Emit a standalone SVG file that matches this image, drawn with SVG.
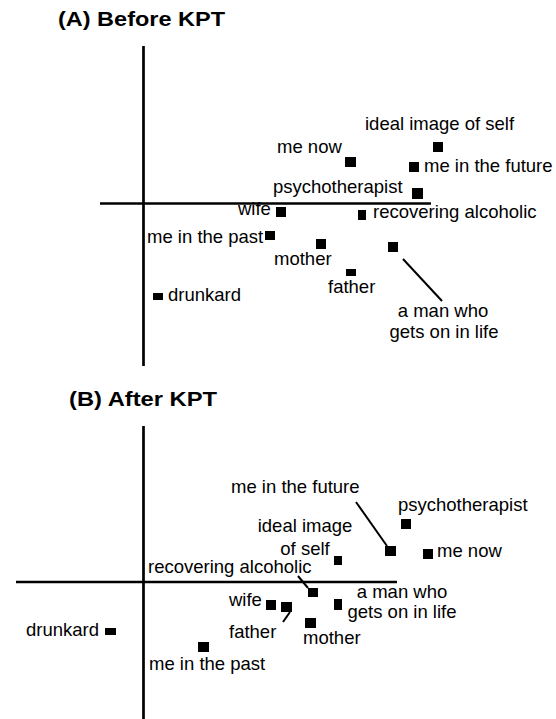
<svg xmlns="http://www.w3.org/2000/svg" width="556" height="719" viewBox="0 0 556 719">
<style>
.t{font-family:"Liberation Sans",Arial,sans-serif;font-size:18.5px;fill:#000}
.h{font-family:"Liberation Sans",Arial,sans-serif;font-size:21px;font-weight:bold;fill:#000}
.ax{stroke:#000;stroke-width:2.7;fill:none}
.ld{stroke:#000;stroke-width:2;fill:none}
.m{fill:#000}
.mid{text-anchor:middle}
</style>
<rect width="556" height="719" fill="#fff"/>
<text class="h" x="58" y="26" textLength="167" lengthAdjust="spacingAndGlyphs">(A) Before KPT</text>
<text class="h" x="69" y="406" textLength="148" lengthAdjust="spacingAndGlyphs">(B) After KPT</text>
<g id="connectors">
<line class="ax" x1="143.5" y1="46" x2="143.5" y2="366"/>
<line class="ax" x1="100" y1="203.5" x2="431" y2="203.5"/>
<line class="ld" x1="403" y1="259" x2="442" y2="301"/>
<line class="ax" x1="143.5" y1="426" x2="143.5" y2="719"/>
<line class="ax" x1="16" y1="582" x2="397" y2="582"/>
<line class="ld" x1="356" y1="502" x2="387" y2="546"/>
<line class="ld" x1="298" y1="576" x2="308" y2="588"/>
<line class="ld" x1="290" y1="612" x2="283" y2="622"/>
</g>
<g id="A-ideal"><rect class="m" x="433" y="142" width="10" height="10"/><text class="t" x="365" y="130">ideal image of self</text></g>
<g id="A-menow"><rect class="m" x="345" y="157" width="11" height="10"/><text class="t" x="277" y="153">me now</text></g>
<g id="A-future"><rect class="m" x="409" y="162" width="10" height="10"/><text class="t" x="424" y="172">me in the future</text></g>
<g id="A-psych"><rect class="m" x="412" y="188" width="11" height="11"/><text class="t" x="273" y="193">psychotherapist</text></g>
<g id="A-wife"><rect class="m" x="276" y="207" width="10" height="10"/><text class="t" x="238" y="215">wife</text></g>
<g id="A-recovering"><rect class="m" x="358" y="210" width="8" height="10"/><text class="t" x="373" y="218">recovering alcoholic</text></g>
<g id="A-past"><rect class="m" x="265" y="231" width="10" height="9"/><text class="t" x="147" y="243">me in the past</text></g>
<g id="A-mother"><rect class="m" x="316" y="239" width="10" height="10"/><text class="t" x="274" y="265">mother</text></g>
<g id="A-father"><rect class="m" x="346" y="269" width="10" height="7"/><text class="t" x="328" y="293">father</text></g>
<g id="A-man"><rect class="m" x="388" y="242" width="10" height="10"/><text class="t mid" x="443" y="317">a man who</text><text class="t mid" x="444" y="338">gets on in life</text></g>
<g id="A-drunkard"><rect class="m" x="153" y="293" width="10" height="7"/><text class="t" x="168" y="301">drunkard</text></g>
<g id="B-future"><rect class="m" x="385" y="546" width="11" height="10"/><text class="t" x="231" y="493">me in the future</text></g>
<g id="B-psych"><rect class="m" x="401" y="519" width="10" height="10"/><text class="t" x="398" y="511">psychotherapist</text></g>
<g id="B-ideal"><rect class="m" x="334" y="556" width="8" height="9"/><text class="t mid" x="305" y="532">ideal image</text><text class="t mid" x="305" y="555">of self</text></g>
<g id="B-menow"><rect class="m" x="423" y="549" width="10" height="10"/><text class="t" x="437" y="557">me now</text></g>
<g id="B-recovering"><rect class="m" x="308" y="588" width="10" height="9"/><text class="t" x="148" y="573">recovering alcoholic</text></g>
<g id="B-man"><rect class="m" x="334" y="599" width="8" height="11"/><text class="t mid" x="402" y="598">a man who</text><text class="t mid" x="402" y="618">gets on in life</text></g>
<g id="B-wife"><rect class="m" x="266" y="600" width="10" height="10"/><text class="t" x="229" y="606">wife</text></g>
<g id="B-father"><rect class="m" x="281" y="602" width="11" height="10"/><text class="t" x="229" y="638">father</text></g>
<g id="B-mother"><rect class="m" x="305" y="618" width="11" height="10"/><text class="t" x="303" y="644">mother</text></g>
<g id="B-drunkard"><rect class="m" x="105" y="628" width="11" height="7"/><text class="t" x="26" y="636">drunkard</text></g>
<g id="B-past"><rect class="m" x="198" y="642" width="11" height="10"/><text class="t" x="149" y="670">me in the past</text></g>
</svg>
